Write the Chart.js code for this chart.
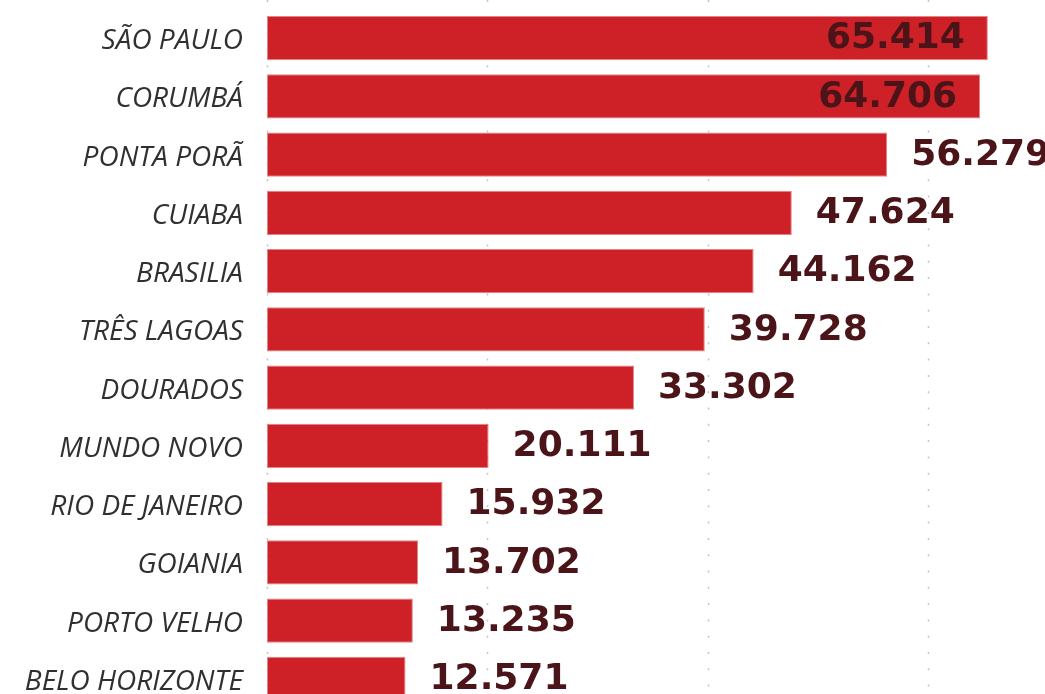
<!DOCTYPE html>
<html>
<head>
<meta charset="utf-8">
<script src="https://cdn.jsdelivr.net/npm/chart.js@4"></script>
<style>
  html, body { margin: 0; padding: 0; background: #fff; overflow: hidden; }
</style>
</head>
<body>
<canvas id="myChart" width="1045" height="712"></canvas>
<script>
var cities = [
  "SÃO PAULO", "CORUMBÁ", "PONTA PORÃ", "CUIABA", "BRASILIA", "TRÊS LAGOAS",
  "DOURADOS", "MUNDO NOVO", "RIO DE JANEIRO", "GOIANIA", "PORTO VELHO", "BELO HORIZONTE"
];
var totals = [65414, 64706, 56279, 47624, 44162, 39728, 33302, 20111, 15932, 13702, 13235, 12571];
var gridTicks = [0, 20000, 40000, 60000];

// values above this get their label inside the bar
var insideLimit = 60000;

function fmt(v) {
  return String(v).replace(/\B(?=(\d{3})+(?!\d))/g, ".");
}

var dottedGrid = {
  id: "dottedGrid",
  beforeDatasetsDraw(chart) {
    const ctx = chart.ctx;
    const x = chart.scales.x;
    ctx.save();
    ctx.strokeStyle = "#c4c4c4";
    ctx.lineWidth = 1.5;
    ctx.setLineDash([2, 14.3]);
    gridTicks.forEach(function (t) {
      const px = Math.round(x.getPixelForValue(t)) + 0.5;
      ctx.beginPath();
      ctx.moveTo(px, 0);
      ctx.lineTo(px, chart.height);
      ctx.stroke();
    });
    ctx.restore();
  }
};

var valueLabels = {
  id: "valueLabels",
  afterDatasetsDraw(chart) {
    const ctx = chart.ctx;
    const meta = chart.getDatasetMeta(0);
    ctx.save();
    ctx.font = "bold 36px 'DejaVu Sans'";
    ctx.fillStyle = "#4a1419";
    ctx.textBaseline = "middle";
    meta.data.forEach(function (bar, i) {
      const v = totals[i];
      if (v > insideLimit) {
        ctx.textAlign = "right";
        ctx.fillText(fmt(v), bar.x - 23, bar.y + 1);
      } else {
        ctx.textAlign = "left";
        ctx.fillText(fmt(v), bar.x + 24, bar.y + 1);
      }
    });
    ctx.restore();
  }
};

var myChart = new Chart("myChart", {
  type: "bar",
  data: {
    labels: cities,
    datasets: [
      {
        data: totals,
        backgroundColor: "#cd2027",
        borderColor: "#e48489",
        borderWidth: 1,
        borderSkipped: false,
        categoryPercentage: 1,
        barPercentage: 0.756,
      },
    ],
  },
  options: {
    indexAxis: "y",
    responsive: false,
    animation: false,
    layout: { padding: { top: 9, right: 0, bottom: 4, left: 0 } },
    plugins: {
      legend: { display: false },
      tooltip: { enabled: false },
    },
    scales: {
      x: {
        display: false,
        min: 0,
        max: 70600,
      },
      y: {
        grid: { display: false, drawTicks: false },
        border: { display: false },
        ticks: {
          padding: 24,
          labelOffset: 3,
          color: "#303030",
          font: { family: "'Open Sans'", style: "italic", size: 28 },
        },
        afterFit(scale) {
          scale.width = 267;
          scale.paddingTop = 0;
          scale.paddingBottom = 0;
        },
      },
    },
  },
  plugins: [dottedGrid, valueLabels],
});
</script>
</body>
</html>
